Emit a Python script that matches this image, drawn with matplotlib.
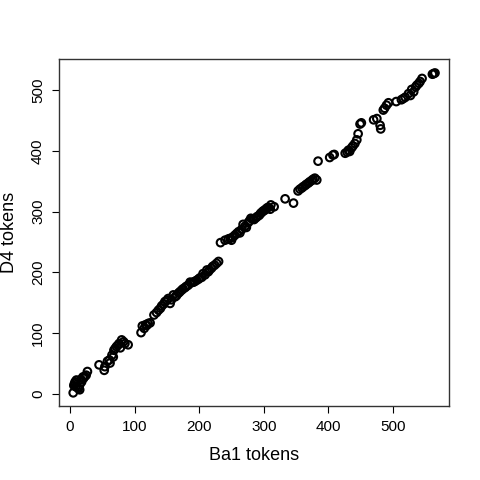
import matplotlib
matplotlib.use("Agg")
import matplotlib.pyplot as plt

# token positions, Ba1 vs D4
ba1_tokens = [
    5, 8, 9, 13, 15, 18, 21, 25, 27, 10, 15, 6, 12, 20, 7, 17, 23,
    45, 53, 54, 61, 65, 68, 72, 76, 80, 85, 90, 62, 67, 58, 78, 70, 74, 83,
    110, 115, 119, 124, 112, 117, 121,
    130, 137, 142, 147, 152, 157, 163, 168, 173, 178, 183, 188, 193,
    199, 204, 209, 214, 219, 224, 230, 155, 134, 160, 186, 212,
    140, 145, 150, 165, 170, 175, 180, 191, 196, 201, 206, 216, 221, 227,
    233, 240, 248, 250, 255, 261, 266, 271, 276, 280, 285, 290, 295,
    299, 307, 311, 316, 310, 258, 268, 288, 303,
    245, 252, 263, 273, 278, 283, 293, 297, 301, 305,
    333, 346,
    353, 356, 359, 364, 369, 374, 379, 382, 361, 371, 366, 376,
    384, 402, 409, 407,
    426, 431, 436, 441, 444, 446, 433, 429, 438,
    449, 451, 470, 475, 480, 481,
    485, 490, 493, 505, 513, 519, 524, 529, 532, 537, 542, 545,
    487, 516, 527, 535, 540,
    561, 565, 563,
]
d4_tokens = [
    2, 20, 12, 9, 15, 20, 26, 31, 37, 23, 7, 14, 11, 28, 17, 24, 29,
    48, 39, 45, 56, 64, 72, 78, 83, 89, 83, 81, 51, 61, 54, 76, 75, 80, 86,
    101, 108, 113, 117, 112, 114, 116,
    130, 138, 145, 152, 157, 155, 160, 166, 171, 175, 179, 183, 185,
    189, 192, 196, 201, 207, 212, 218, 149, 134, 163, 184, 204,
    141, 148, 154, 162, 168, 173, 177, 184, 187, 191, 198, 204, 210, 215,
    249, 253, 256, 253, 261, 267, 271, 276, 282, 289, 287, 292, 297,
    301, 307, 311, 308, 304, 264, 279, 290, 304,
    255, 258, 265, 274, 285, 288, 294, 299, 302, 306,
    321, 314,
    334, 337, 339, 343, 347, 351, 355, 352, 341, 349, 345, 353,
    383, 389, 394, 393,
    396, 401, 405, 412, 418, 428, 399, 398, 408,
    444, 446, 451, 453, 442, 436,
    467, 475, 479, 481, 484, 488, 494, 501, 497, 508, 514, 519,
    470, 486, 491, 505, 511,
    526, 528, 527,
]

plt.rcParams["font.family"] = ["Liberation Sans", "DejaVu Sans"]

fig = plt.figure(figsize=(4.8, 4.8), dpi=100)
ax = fig.add_axes([59 / 480, 74 / 480, 390 / 480, 347 / 480])

ax.scatter(ba1_tokens, d4_tokens, s=30, facecolors="none",
           edgecolors="black", linewidths=1.5)

ax.set_xlim(-17, 586.7)
ax.set_ylim(-19.7, 551)
ax.set_xticks([0, 100, 200, 300, 400, 500])
ax.set_yticks([0, 100, 200, 300, 400, 500])
ax.tick_params(direction="out", length=5, width=0.8, labelsize=11, pad=5)
for lab in ax.get_yticklabels():
    lab.set_rotation(90)
    lab.set_va("center")
for sp in ax.spines.values():
    sp.set_color("#333333")
    sp.set_linewidth(1)

ax.set_xlabel("Ba1 tokens", fontsize=13)
ax.set_ylabel("D4 tokens", fontsize=13)
ax.xaxis.set_label_coords(0.5, -0.118)
ax.yaxis.set_label_coords(-0.105, 0.5)

fig.savefig("out.png", dpi=100)
